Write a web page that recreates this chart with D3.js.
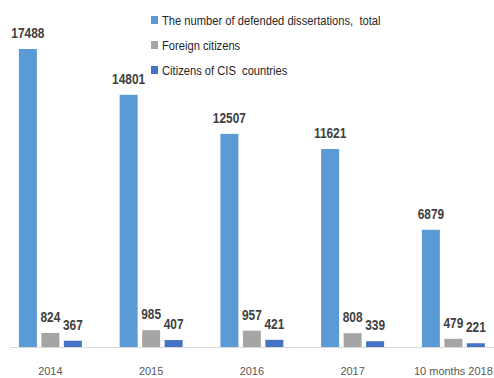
<!DOCTYPE html>
<html>
  <head>
    <meta charset="utf-8">
    <style>
      body { margin: 0; background: #fff; }
      text { font-family: "Liberation Sans", Arial, sans-serif; white-space: pre; }
    </style>
  </head>
  <body>
    <script src="https://d3js.org/d3.v7.min.js"></script>
    <script>
      // data
      var years = ["2014", "2015", "2016", "2017", "10 months 2018"];
      var seriesNames = ["The number of defended dissertations,  total", "Foreign citizens", "Citizens of CIS  countries"];
      var totals = [17488, 14801, 12507, 11621, 6879];
      var foreign = [824, 985, 957, 808, 479];
      var cis = [367, 407, 421, 339, 221];
      var colors = ["#5b9bd5", "#a5a5a5", "#4472c4"];

      var w = 494, h = 378;
      var base = 347, top_y = 49;

      var svg = d3.select("body").append("svg")
        .attr("width", w)
        .attr("height", h);

      var rows = years.map(function(y, i) {
        return { year: y, vals: [totals[i], foreign[i], cis[i]] };
      });

      var x0 = d3.scaleBand().domain(years).range([0, 503.75]);
      var x1 = d3.scaleBand().domain([0, 1, 2])
        .range([0, x0.bandwidth()])
        .paddingInner(0.2)
        .paddingOuter(0.84);
      var y = d3.scaleLinear().domain([0, d3.max(totals)]).range([base, top_y]);

      // axis line
      svg.append("line")
        .attr("x1", 10).attr("x2", 494)
        .attr("y1", base + 0.5).attr("y2", base + 0.5)
        .attr("stroke", "#d9d9d9");

      var groups = svg.selectAll(".grp")
        .data(rows)
        .enter().append("g")
        .attr("transform", function(d) { return "translate(" + x0(d.year) + ",0)"; });

      groups.selectAll("rect")
        .data(function(d) { return d.vals; })
        .enter().append("rect")
        .attr("x", function(d, i) { return x1(i); })
        .attr("y", function(d) { return y(d); })
        .attr("width", x1.bandwidth())
        .attr("height", function(d) { return base - y(d); })
        .attr("fill", function(d, i) { return colors[i]; });

      // value labels, squeezed a bit to look like the narrow original font
      groups.selectAll(".lbl")
        .data(function(d) { return d.vals; })
        .enter().append("text")
        .attr("transform", function(d, i) {
          return "translate(" + (x1(i) + x1.bandwidth() / 2) + "," + (y(d) - 11) + ") scale(0.85,1)";
        })
        .attr("text-anchor", "middle")
        .attr("font-size", "14px")
        .attr("font-weight", "bold")
        .attr("fill", "#404040")
        .text(function(d) { return d; });

      // category labels
      svg.selectAll(".cat")
        .data(years)
        .enter().append("text")
        .attr("x", function(d) { return x0(d) + x0.bandwidth() / 2; })
        .attr("y", 375)
        .attr("text-anchor", "middle")
        .attr("font-size", "11px")
        .attr("fill", "#595959")
        .text(function(d) { return d; });

      // legend
      var leg = svg.selectAll(".leg")
        .data(seriesNames)
        .enter().append("g")
        .attr("transform", function(d, i) { return "translate(151," + (20 + i * 25) + ")"; });

      leg.append("rect")
        .attr("x", 0).attr("y", -4)
        .attr("width", 7).attr("height", 8)
        .attr("fill", function(d, i) { return colors[i]; });

      leg.append("text")
        .attr("transform", "translate(11,4.5) scale(0.86,1)")
        .attr("font-size", "13px")
        .attr("fill", "#262626")
        .text(function(d) { return d; });
    </script>
  </body>
</html>
